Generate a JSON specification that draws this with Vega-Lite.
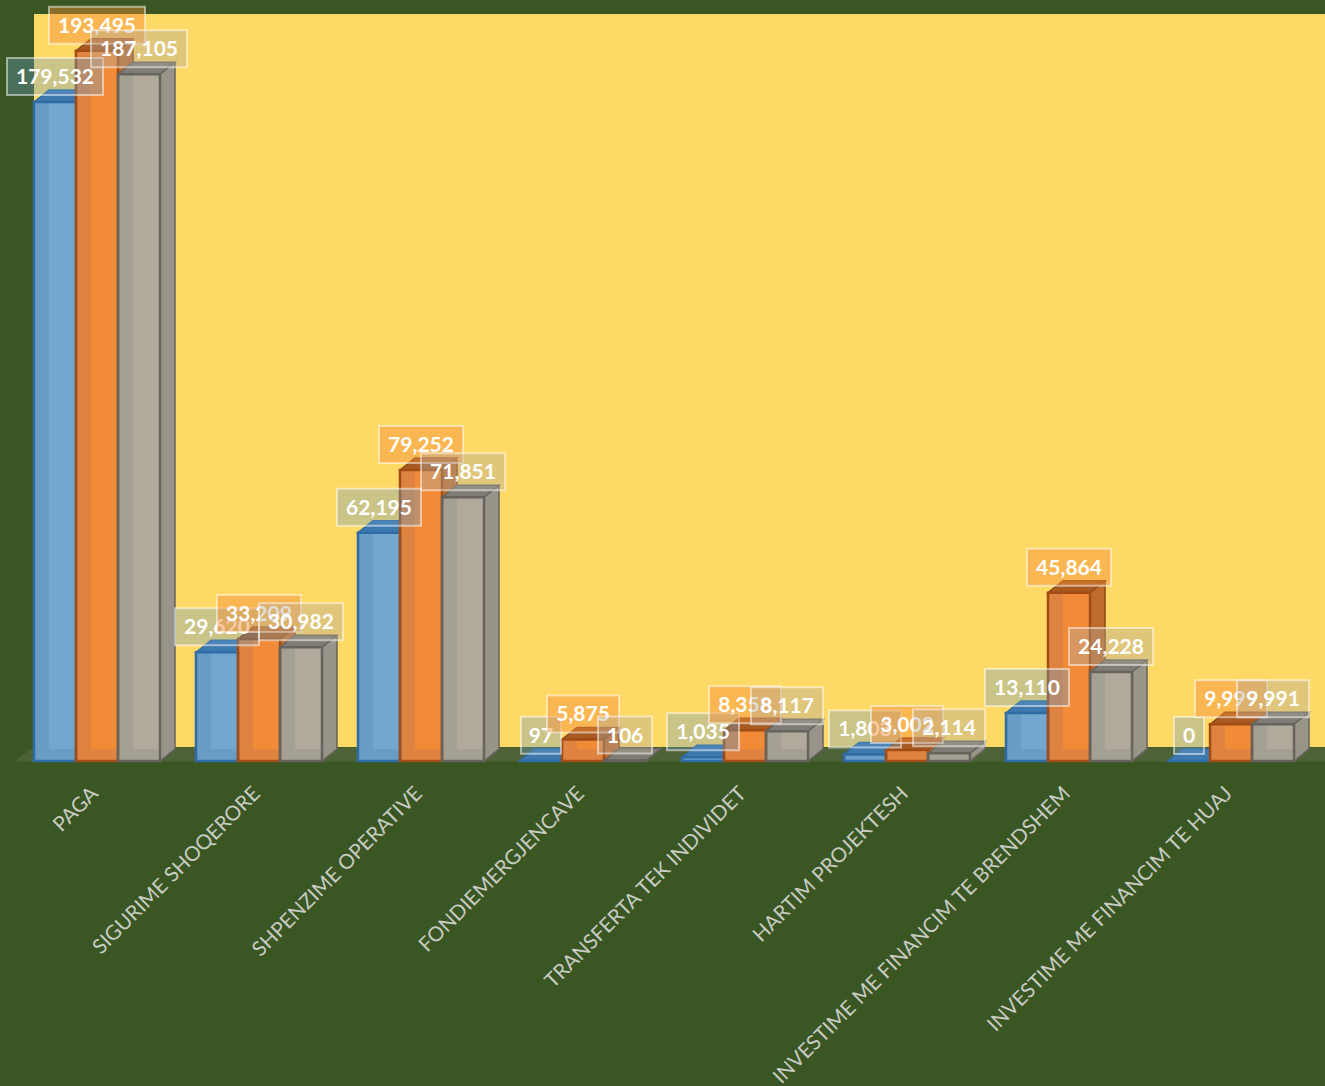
{"$schema":"https://vega.github.io/schema/vega-lite/v6.json","width":1291,"height":733,"autosize":"none","padding":{"left":34,"top":14,"right":0,"bottom":339},"background":"#3A5623","config":{"view":{"stroke":null,"fill":"#FFD966"}},
"data":{"values":[
{"cat":"PAGA","s":"A","v":179532},{"cat":"PAGA","s":"B","v":193495},{"cat":"PAGA","s":"C","v":187105},
{"cat":"SIGURIME SHOQERORE","s":"A","v":29620},{"cat":"SIGURIME SHOQERORE","s":"B","v":33209},{"cat":"SIGURIME SHOQERORE","s":"C","v":30982},
{"cat":"SHPENZIME OPERATIVE","s":"A","v":62195},{"cat":"SHPENZIME OPERATIVE","s":"B","v":79252},{"cat":"SHPENZIME OPERATIVE","s":"C","v":71851},
{"cat":"FONDIEMERGJENCAVE","s":"A","v":97},{"cat":"FONDIEMERGJENCAVE","s":"B","v":5875},{"cat":"FONDIEMERGJENCAVE","s":"C","v":106},
{"cat":"TRANSFERTA TEK INDIVIDET","s":"A","v":1035},{"cat":"TRANSFERTA TEK INDIVIDET","s":"B","v":8358},{"cat":"TRANSFERTA TEK INDIVIDET","s":"C","v":8117},
{"cat":"HARTIM PROJEKTESH","s":"A","v":1803},{"cat":"HARTIM PROJEKTESH","s":"B","v":3002},{"cat":"HARTIM PROJEKTESH","s":"C","v":2114},
{"cat":"INVESTIME ME FINANCIM TE BRENDSHEM","s":"A","v":13110},{"cat":"INVESTIME ME FINANCIM TE BRENDSHEM","s":"B","v":45864},{"cat":"INVESTIME ME FINANCIM TE BRENDSHEM","s":"C","v":24228},
{"cat":"INVESTIME ME FINANCIM TE HUAJ","s":"A","v":0},{"cat":"INVESTIME ME FINANCIM TE HUAJ","s":"B","v":9999},{"cat":"INVESTIME ME FINANCIM TE HUAJ","s":"C","v":9991}
]},
"transform":[{"calculate":"length(format(datum.v,','))","as":"n"},{"calculate":"39+42*indexof(['A','B','C'],datum.s)","as":"g"},{"calculate":"datum.g","as":"o"}],
"encoding":{
"x":{"field":"cat","type":"nominal","sort":null,"title":null,"scale":{"range":[-18,1291],"paddingInner":0,"paddingOuter":0.04,"align":0},
"axis":{"labelAngle":-45,"labelAlign":"right","labelBaseline":"top","labelFont":"Lato","labelFontSize":20.5,"labelColor":"#C8CCC3","labelLimit":900,"labelPadding":29,"labelOffset":-9,"labelOverlap":false,"labelBound":false,"labelFlush":false,"ticks":false,"domainColor":"#4E6238","domainWidth":14,"offset":7,"grid":false}},
"xOffset":{"field":"o","type":"quantitative","scale":{"domain":[0,162],"range":[0,162]}},
"y":{"field":"v","type":"quantitative","title":null,"axis":null,"scale":{"domain":[0,203500],"nice":false,"zero":true,"range":[747,0]}}
},
"resolve":{"scale":{"fill":"independent","stroke":"independent"}},
"layer":[
{"transform":[{"filter":"datum.cat==='PAGA'&&datum.s==='A'"}],"mark":{"type":"point","filled":true,"opacity":1,"size":4,"shape":"M-42,-15 L-21,-15 L-21,-14 L-41,0 L-42,0 Z","stroke":null},"encoding":{"y":{"datum":0},"fill":{"value":"#3A5623"}}},
{"transform":[{"calculate":"datum.g+22.5","as":"o"}],"mark":{"type":"bar","width":3,"yOffset":-1.2},"encoding":{"fill":{"field":"s","legend":null,"scale":{"domain":["A","B","C"],"range":["#5F8DB5","#BE6A2C","#98948A"]}}}},
{"transform":[{"calculate":"datum.g+25.5","as":"o"}],"mark":{"type":"bar","width":3,"yOffset":-3.6},"encoding":{"fill":{"field":"s","legend":null,"scale":{"domain":["A","B","C"],"range":["#5F8DB5","#BE6A2C","#98948A"]}}}},
{"transform":[{"calculate":"datum.g+28.5","as":"o"}],"mark":{"type":"bar","width":3,"yOffset":-6},"encoding":{"fill":{"field":"s","legend":null,"scale":{"domain":["A","B","C"],"range":["#5F8DB5","#BE6A2C","#98948A"]}}}},
{"transform":[{"calculate":"datum.g+31.5","as":"o"}],"mark":{"type":"bar","width":3,"yOffset":-8.4},"encoding":{"fill":{"field":"s","legend":null,"scale":{"domain":["A","B","C"],"range":["#5F8DB5","#BE6A2C","#98948A"]}}}},
{"transform":[{"calculate":"datum.g+34.5","as":"o"}],"mark":{"type":"bar","width":3,"yOffset":-10.8},"encoding":{"fill":{"field":"s","legend":null,"scale":{"domain":["A","B","C"],"range":["#5F8DB5","#BE6A2C","#98948A"]}}}},
{"transform":[{"calculate":"datum.g+36","as":"o"}],"mark":{"type":"bar","width":1.5,"yOffset":-12},"encoding":{"fill":{"field":"s","legend":null,"scale":{"domain":["A","B","C"],"range":["#2F6CA3","#8F4A18","#66635C"]}}}},
{"mark":{"type":"point","filled":false,"opacity":1,"size":4,"shape":"M21,0 L36,-12","strokeWidth":1.5},"encoding":{"y":{"datum":0},"stroke":{"field":"s","legend":null,"scale":{"domain":["A","B","C"],"range":["#2F6CA3","#8F4A18","#66635C"]}}}},
{"mark":{"type":"point","filled":true,"opacity":1,"size":4,"shape":"M-21,0 L-6,-12 L36,-12 L21,0 Z","strokeWidth":1.5},"encoding":{"fill":{"field":"s","legend":null,"scale":{"domain":["A","B","C"],"range":["#3D78AE","#A85A22","#7E7C74"]}},"stroke":{"field":"s","legend":null,"scale":{"domain":["A","B","C"],"range":["#2F6CA3","#8F4A18","#66635C"]}}}},
{"mark":{"type":"bar","width":42},"encoding":{"fill":{"field":"s","legend":null,"scale":{"domain":["A","B","C"],"range":["#6A9DC6","#DE8440","#A5A094"]}}}},
{"transform":[{"filter":"datum.v>3300"},{"calculate":"datum.g+7.5","as":"o"}],"mark":{"type":"bar","width":27,"y2Offset":-12},"encoding":{"y2":{"datum":0},"fill":{"field":"s","legend":null,"scale":{"domain":["A","B","C"],"range":["#74A7D0","#F28B38","#B1AA9C"]}}}},
{"mark":{"type":"bar","width":42,"fillOpacity":0,"strokeWidth":2.5},"encoding":{"stroke":{"field":"s","legend":null,"scale":{"domain":["A","B","C"],"range":["#2F6CA3","#A04C14","#66635C"]}}}},
{"transform":[{"filter":"datum.s==='A'"}],"mark":{"type":"point","filled":true,"opacity":1,"fillOpacity":0.35,"size":4,"stroke":"#FFFFFF","strokeOpacity":0.5,"strokeWidth":2,"yOffset":-25.5},"encoding":{"fill":{"value":"#6A9DC6"},"shape":{"field":"n","type":"nominal","legend":null,"scale":{"domain":[1,2,3,5,6,7],"range":["M-15,-18.5 H15 V18.5 H-15 Z","M-20,-18.5 H20 V18.5 H-20 Z","M-27,-18.5 H27 V18.5 H-27 Z","M-36,-18.5 H36 V18.5 H-36 Z","M-42,-18.5 H42 V18.5 H-42 Z","M-48,-18.5 H48 V18.5 H-48 Z"]}}}},
{"transform":[{"filter":"datum.s==='A'"}],"mark":{"type":"text","font":"Lato","fontWeight":"bold","fontSize":21,"fill":"#FFFFFF","baseline":"middle","align":"center","yOffset":-24},"encoding":{"text":{"field":"v","type":"quantitative","format":","}}},
{"transform":[{"filter":"datum.s==='B'"}],"mark":{"type":"point","filled":true,"opacity":1,"fillOpacity":0.45,"size":4,"stroke":"#FFFFFF","strokeOpacity":0.5,"strokeWidth":2,"yOffset":-25.5},"encoding":{"fill":{"value":"#F28B38"},"shape":{"field":"n","type":"nominal","legend":null,"scale":{"domain":[1,2,3,5,6,7],"range":["M-15,-18.5 H15 V18.5 H-15 Z","M-20,-18.5 H20 V18.5 H-20 Z","M-27,-18.5 H27 V18.5 H-27 Z","M-36,-18.5 H36 V18.5 H-36 Z","M-42,-18.5 H42 V18.5 H-42 Z","M-48,-18.5 H48 V18.5 H-48 Z"]}}}},
{"transform":[{"filter":"datum.s==='B'"}],"mark":{"type":"text","font":"Lato","fontWeight":"bold","fontSize":21,"fill":"#FFFFFF","baseline":"middle","align":"center","yOffset":-24},"encoding":{"text":{"field":"v","type":"quantitative","format":","}}},
{"transform":[{"filter":"datum.s==='C'"}],"mark":{"type":"point","filled":true,"opacity":1,"fillOpacity":0.4,"size":4,"stroke":"#FFFFFF","strokeOpacity":0.5,"strokeWidth":2,"yOffset":-25.5},"encoding":{"fill":{"value":"#B1AA9C"},"shape":{"field":"n","type":"nominal","legend":null,"scale":{"domain":[1,2,3,5,6,7],"range":["M-15,-18.5 H15 V18.5 H-15 Z","M-20,-18.5 H20 V18.5 H-20 Z","M-27,-18.5 H27 V18.5 H-27 Z","M-36,-18.5 H36 V18.5 H-36 Z","M-42,-18.5 H42 V18.5 H-42 Z","M-48,-18.5 H48 V18.5 H-48 Z"]}}}},
{"transform":[{"filter":"datum.s==='C'"}],"mark":{"type":"text","font":"Lato","fontWeight":"bold","fontSize":21,"fill":"#FFFFFF","baseline":"middle","align":"center","yOffset":-24},"encoding":{"text":{"field":"v","type":"quantitative","format":","}}}
]}
